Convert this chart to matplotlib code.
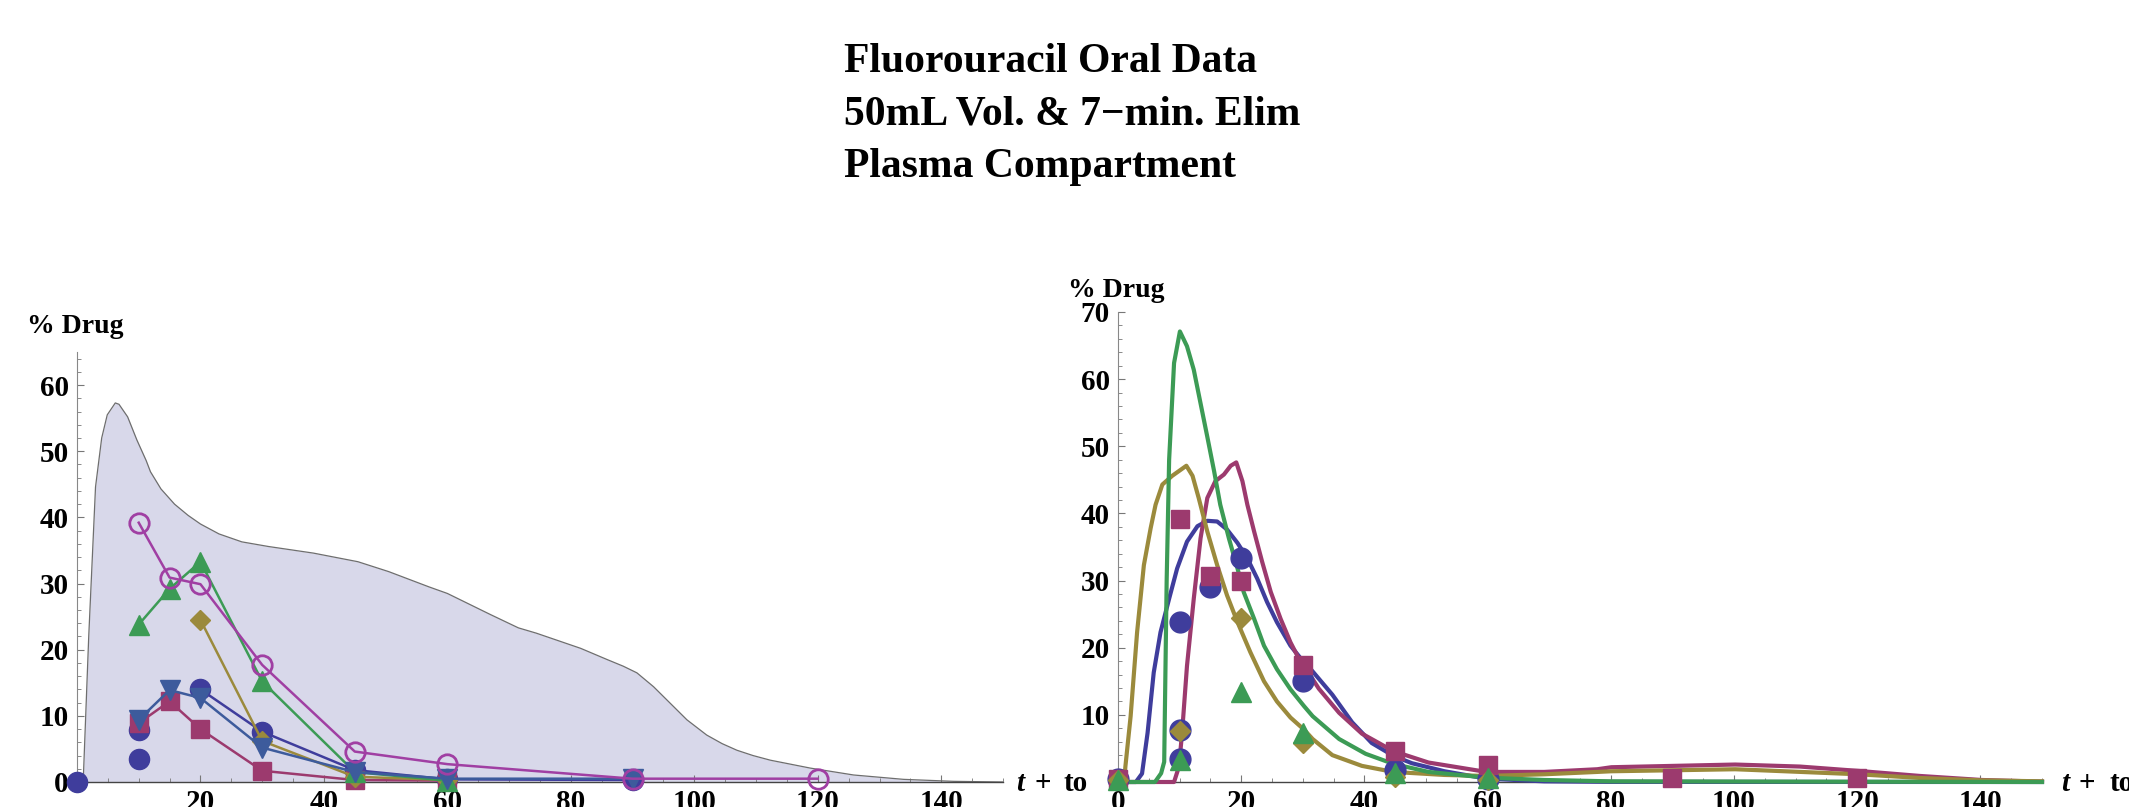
import numpy as np
import matplotlib
matplotlib.use("Agg")
import matplotlib.pyplot as plt
from matplotlib.ticker import MultipleLocator, FixedLocator

# ---- data ----
# left panel: shaded envelope
area_t = [1.0, 1.9, 3.0, 4.0, 4.9, 6.2, 6.8, 8.2, 9.7, 11.2, 11.9, 13.6, 15.8, 18.0, 20.0, 23.0,
          26.7, 31.0, 38.3, 45.5, 50.5, 57.0, 60.0, 67.0, 71.5, 74.4, 81.6, 85.9, 88.5, 90.7, 93.4,
          96.1, 98.8, 102.0, 104.5, 106.9, 109.5, 112.3, 118.8, 125.8, 133.9, 142.0, 150.0]
area_v = [0, 22.0, 44.6, 52.0, 55.5, 57.3, 57.1, 55.2, 51.7, 48.6, 46.9, 44.3, 42.0, 40.3, 39.0, 37.5,
          36.3, 35.6, 34.6, 33.3, 31.8, 29.5, 28.5, 25.3, 23.3, 22.5, 20.2, 18.5, 17.5, 16.5, 14.4,
          11.9, 9.4, 7.1, 5.8, 4.8, 4.0, 3.3, 2.1, 1.06, 0.4, 0.1, 0]

# left panel: joined data sets
circ_t = [20, 30, 45, 60, 90]
circ_v = [14.0, 7.6, 1.8, 0.4, 0.3]
circ_pts_t = [0, 10, 10]
circ_pts_v = [0, 7.9, 3.5]
sq_t = [10, 15, 20, 30, 45, 60]
sq_v = [8.9, 12.2, 8.0, 1.7, 0.3, 0.2]
dia_t = [20, 30, 45, 60]
dia_v = [24.5, 6.2, 0.8, 0.3]
tri_t = [10, 15, 20, 30, 45, 60]
tri_v = [23.8, 29.2, 33.3, 15.2, 1.5, 0.2]
tdn_t = [10, 15, 20, 30, 45, 60, 90]
tdn_v = [9.4, 13.9, 12.7, 5.2, 1.5, 0.5, 0.5]
oc_t = [10, 15, 20, 30, 45, 60, 90, 120]
oc_v = [39.2, 30.9, 29.9, 17.7, 4.6, 2.7, 0.5, 0.5]

# right panel: model curves
ind_t = [0, 2.9, 3.9, 4.8, 5.8, 6.9, 8.3, 9.6, 11.2, 12.9, 14.5, 16.1, 17.7, 19.4, 21.0, 22.6,
         24.2, 25.8, 28.0, 30.2, 31.2, 34.8, 38.0, 41.2, 44.7, 47.7, 53.0, 59.8, 69.2, 80, 150]
ind_v = [0, 0, 1.25, 7.3, 16.3, 22.3, 27.3, 31.8, 35.8, 38.1, 38.9, 38.8, 37.6, 35.6, 33.3, 30.3,
         26.8, 23.8, 20.3, 17.8, 16.9, 13.0, 8.9, 5.8, 3.9, 2.8, 1.6, 0.5, 0.1, 0.02, 0]
mag_t = [0, 9.1, 9.9, 10.4, 11.2, 12.3, 13.4, 14.5, 15.8, 17.2, 18.3, 19.2, 20.2, 21.0, 22.1,
         23.4, 24.8, 26.4, 28.0, 29.4, 30.2, 32.6, 35.9, 39.6, 44.7, 50.4, 59.8, 69.2, 77.8,
         80.1, 100.2, 110.7, 120.2, 130.2, 140.2, 150]
mag_v = [0, 0, 2.3, 7.3, 17.3, 27.3, 36.3, 42.3, 44.8, 45.8, 47.1, 47.6, 44.8, 41.3, 37.3,
         32.8, 28.3, 24.3, 20.8, 18.3, 17.3, 13.9, 10.3, 7.2, 4.6, 2.9, 1.5, 1.5, 1.9,
         2.2, 2.6, 2.3, 1.65, 0.9, 0.3, 0.05]
oli_t = [0, 1.0, 1.2, 2.05, 3.1, 4.2, 5.3, 6.1, 7.2, 8.8, 11.1, 12.1, 13.1, 14.5, 16.1, 17.7,
         19.4, 21.5, 23.7, 25.8, 28.0, 30.2, 31.6, 34.8, 39.6, 44.7, 53.0, 59.8, 69.2, 77.8,
         80.1, 100.2, 120.2, 130.2, 140.0, 150]
oli_v = [0, 0, 2.3, 9.8, 22.3, 32.3, 37.8, 41.3, 44.3, 45.6, 47.1, 45.6, 42.3, 37.3, 32.3, 27.8,
         23.8, 19.3, 15.0, 12.0, 9.6, 7.8, 6.4, 4.0, 2.4, 1.5, 1.05, 0.9, 1.15, 1.5,
         1.6, 1.9, 1.15, 0.6, 0.25, 0.1]
grn_t = [0, 6.0, 7.0, 7.5, 7.9, 8.3, 9.1, 10.05, 11.2, 12.3, 13.4, 14.5, 15.6, 16.6, 18.0,
         19.4, 20.4, 22.1, 23.7, 25.8, 28.0, 30.2, 31.6, 35.9, 40.2, 44.7, 50.4, 59.8, 69.2,
         80, 150]
grn_v = [0, 0, 1.3, 3.0, 30.0, 48.0, 62.4, 67.1, 64.9, 61.4, 56.4, 51.4, 46.3, 41.3, 36.3,
         31.8, 28.3, 24.3, 20.3, 16.8, 13.8, 11.3, 9.8, 6.4, 4.2, 2.7, 1.5, 0.65, 0.3,
         0.1, 0]

# right panel: measured points
r_circ_t = [0, 10, 10, 10, 15, 20, 30, 45, 60]
r_circ_v = [0.5, 23.9, 7.8, 3.4, 29.1, 33.4, 15.0, 1.8, 0.4]
r_sq_t = [0, 10, 15, 20, 30, 45, 60, 90, 120]
r_sq_v = [0.5, 39.2, 30.7, 29.9, 17.4, 4.6, 2.5, 0.6, 0.6]
r_dia_t = [0, 10, 20, 30, 45, 60]
r_dia_v = [0.3, 7.6, 24.4, 5.8, 0.8, 0.3]
r_tri_t = [0, 10, 20, 30, 45, 60]
r_tri_v = [0.3, 3.3, 13.4, 7.3, 1.4, 0.6]

title_lines = ["Fluorouracil Oral Data", "50mL Vol. & 7\u2212min. Elim", "Plasma Compartment"]

# ---- styling ----
W, H = 2129, 807
c_ind = '#3f3d9c'
c_mag = '#9c3a6e'
c_oli = '#9b8a3c'
c_grn = '#3c9b55'
c_stl = '#3d5b9c'
c_pur = '#a03fa3'
serif = ['Liberation Serif', 'DejaVu Serif']

plt.rcParams['font.family'] = serif
plt.rcParams['font.weight'] = 'bold'

fig = plt.figure(figsize=(W / 100, H / 100), dpi=100)


def fx(x):
    return x / W


def fy(y):
    return 1 - y / H


def style_axes(ax, ytop, show_x0, show_y0):
    ax.set_xlim(0, 150)
    ax.set_ylim(0, ytop)
    ax.patch.set_alpha(0)
    for s in ['top', 'right']:
        ax.spines[s].set_visible(False)
    ax.spines['left'].set_color('#888888')
    ax.spines['left'].set_linewidth(0.8)
    ax.spines['bottom'].set_color('#444444')
    ax.spines['bottom'].set_linewidth(1.0)
    xt = [0, 20, 40, 60, 80, 100, 120, 140] if show_x0 else [20, 40, 60, 80, 100, 120, 140]
    yt = list(range(0 if show_y0 else 10, ytop + 1, 10))
    ax.xaxis.set_major_locator(FixedLocator(xt))
    ax.yaxis.set_major_locator(FixedLocator(yt))
    ax.xaxis.set_minor_locator(MultipleLocator(5))
    ax.yaxis.set_minor_locator(MultipleLocator(2))
    ax.tick_params(which='both', direction='in', color='#777777', labelsize=21)
    ax.tick_params(which='major', length=5, width=0.8)
    ax.tick_params(which='minor', length=3, width=0.6)
    ax.tick_params(axis='x', pad=5)
    ax.tick_params(axis='y', pad=6)
    for lab in ax.get_xticklabels() + ax.get_yticklabels():
        lab.set_fontweight('bold')


# ---- left panel ----
axL = fig.add_axes([fx(77), 25 / H, 926 / W, 430 / H])
axL.fill_between(area_t, area_v, 0, color='#d8d8ea', lw=0, zorder=1)
axL.plot(area_t, area_v, color='#6e6e6e', lw=0.9, zorder=2)

axL.plot(circ_t, circ_v, '-o', color=c_ind, lw=1.8, ms=14.5, clip_on=False, zorder=3)
axL.plot(circ_pts_t, circ_pts_v, 'o', color=c_ind, ms=14.5, clip_on=False, zorder=3)
axL.plot(sq_t, sq_v, '-s', color=c_mag, lw=1.8, ms=13, clip_on=False, zorder=4)
axL.plot(dia_t, dia_v, '-D', color=c_oli, lw=1.8, ms=10, clip_on=False, zorder=5)
axL.plot(tri_t, tri_v, '-^', color=c_grn, lw=1.8, ms=14.5, clip_on=False, zorder=6)
axL.plot(tdn_t, tdn_v, '-v', color=c_stl, lw=1.8, ms=14.5, clip_on=False, zorder=7)
axL.plot(oc_t, oc_v, '-o', color=c_pur, lw=1.8, ms=14, mfc='none', mew=2,
         clip_on=False, zorder=8)
style_axes(axL, 65, False, True)

# ---- right panel ----
axR = fig.add_axes([fx(1118), 25 / H, 924 / W, 470 / H])
axR.plot(ind_t, ind_v, color=c_ind, lw=3, zorder=3, clip_on=False)
axR.plot(mag_t, mag_v, color=c_mag, lw=3, zorder=3, clip_on=False)
axR.plot(oli_t, oli_v, color=c_oli, lw=3, zorder=3, clip_on=False)
axR.plot(grn_t, grn_v, color=c_grn, lw=3, zorder=3, clip_on=False)

axR.plot(r_circ_t, r_circ_v, 'o', color=c_ind, ms=15, clip_on=False, zorder=5)
axR.plot(r_sq_t, r_sq_v, 's', color=c_mag, ms=13, clip_on=False, zorder=5)
axR.plot(r_dia_t, r_dia_v, 'D', color=c_oli, ms=10, clip_on=False, zorder=6)
axR.plot(r_tri_t, r_tri_v, '^', color=c_grn, ms=14.5, clip_on=False, zorder=6)
style_axes(axR, 70, True, False)

# ---- texts ----
fig.text(fx(27), fy(333), '% Drug', fontsize=20, fontweight='bold', ha='left', va='baseline')
fig.text(fx(1068), fy(297), '% Drug', fontsize=20, fontweight='bold', ha='left', va='baseline')

for x0 in [1016, 2061]:
    fig.text(fx(x0), fy(791), 't', fontsize=21, fontweight='bold', fontstyle='italic',
             ha='left', va='baseline')
    fig.text(fx(x0 + 18), fy(791), '+', fontsize=21, fontweight='bold', ha='left', va='baseline')
    fig.text(fx(x0 + 48), fy(791), 'to', fontsize=21, fontweight='bold', ha='left', va='baseline')

for i, line in enumerate(title_lines):
    fig.text(fx(844), fy(72 + 52.5 * i), line, fontsize=30, fontweight='bold',
             ha='left', va='baseline')

fig.savefig('out.png', dpi=100)
